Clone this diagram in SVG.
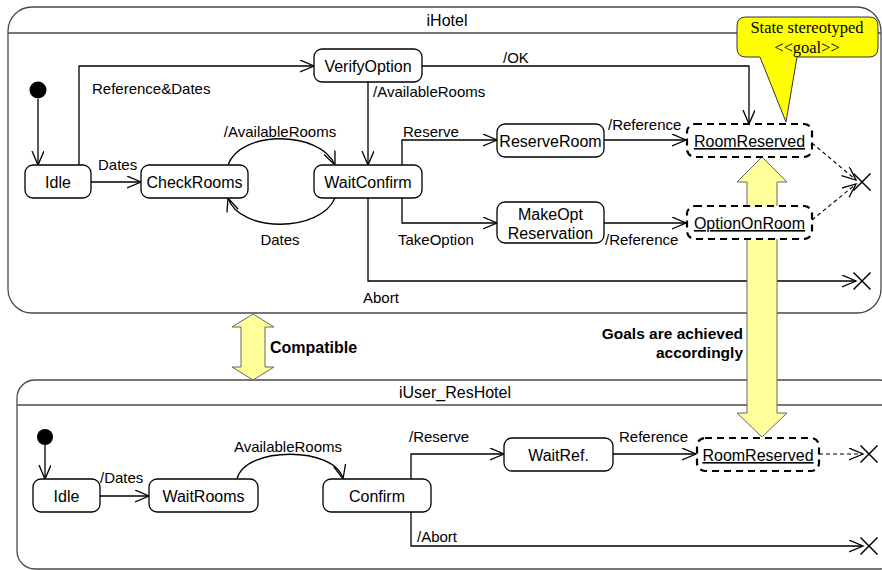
<svg xmlns="http://www.w3.org/2000/svg" width="882" height="570" viewBox="0 0 882 570">
<defs>
<style>
.cont{fill:#fff;stroke:#4a4a4a;stroke-width:1.3}
.hdr{stroke:#4a4a4a;stroke-width:1.3;fill:none}
.st{fill:#fff;stroke:#000;stroke-width:1.3}
.goal{fill:#fff;stroke:#000;stroke-width:2.2;stroke-dasharray:7 5}
.t{font-family:"Liberation Sans",Arial,sans-serif;font-size:16px;fill:#000;text-anchor:middle}
.u{text-decoration:underline}
.lb{font-family:"Liberation Sans",Arial,sans-serif;font-size:15px;fill:#000}
.bold{font-family:"Liberation Sans",Arial,sans-serif;font-weight:bold;fill:#000}
.c{fill:none;stroke:#000;stroke-width:1.3;marker-end:url(#arr)}
.d{fill:none;stroke:#000;stroke-width:1.1;stroke-dasharray:4 3;marker-end:url(#arr)}
.x{stroke:#000;stroke-width:1.5;fill:none}
.yel{fill:#ffff99;stroke:#666;stroke-width:1}
</style>
<marker id="arr" markerUnits="userSpaceOnUse" markerWidth="16" markerHeight="14" refX="14" refY="6" orient="auto">
<path d="M0,0 L14,6 L0,12" fill="none" stroke="#000" stroke-width="1.3" stroke-dasharray="none"/>
</marker>
</defs>

<g id="iHotel">
<rect class="cont" x="8" y="7" width="873" height="306" rx="24"/>
<line class="hdr" x1="8" y1="33" x2="881" y2="33"/>
<text class="t" x="447" y="26">iHotel</text>
</g>
<g id="iUser_ResHotel">
<rect class="cont" x="17" y="380" width="880" height="189" rx="18"/>
<line class="hdr" x1="17" y1="405" x2="897" y2="405"/>
<text class="t" x="455" y="398">iUser_ResHotel</text>
</g>

<g id="connectors">
<path class="c" d="M38,99 V165"/>
<path class="c" d="M91,182 H141"/>
<path class="c" d="M79,165 V66 H314"/>
<path class="c" d="M228,165 C240,130 320,130 335,165"/>
<path class="c" d="M335,198 C320,233 240,233 228,198"/>
<path class="c" d="M368,82 V165"/>
<path class="c" d="M422,66 H749 V124"/>
<path class="c" d="M402,165 V140 H497"/>
<path class="c" d="M604,140 H686"/>
<path class="c" d="M402,198 V223 H497"/>
<path class="c" d="M604,223 H686"/>
<path class="c" d="M368,198 V281 H856"/>
<path class="d" d="M812,143 L856,180"/>
<path class="d" d="M812,220 L856,184"/>
<path class="c" d="M45,445 V479"/>
<path class="c" d="M100,496 H149"/>
<path class="c" d="M237,479 C245,446 335,446 343,479"/>
<path class="c" d="M411,479 V454 H504"/>
<path class="c" d="M613,454 H696"/>
<path class="d" d="M819,454 H863"/>
<path class="c" d="M411,512 V546 H863"/>
</g>

<g id="connector-labels">
<text class="lb" x="92" y="94">Reference&amp;Dates</text>
<text class="lb" x="98" y="170">Dates</text>
<text class="lb" x="280" y="137" text-anchor="middle">/AvailableRooms</text>
<text class="lb" x="280" y="245" text-anchor="middle">Dates</text>
<text class="lb" x="373" y="97">/AvailableRooms</text>
<text class="lb" x="503" y="63">/OK</text>
<text class="lb" x="403" y="137">Reserve</text>
<text class="lb" x="608" y="130">/Reference</text>
<text class="lb" x="398" y="245">TakeOption</text>
<text class="lb" x="605" y="245">/Reference</text>
<text class="lb" x="363" y="303">Abort</text>
<text class="lb" x="100" y="483">/Dates</text>
<text class="lb" x="288" y="452" text-anchor="middle">AvailableRooms</text>
<text class="lb" x="409" y="442">/Reserve</text>
<text class="lb" x="619" y="442">Reference</text>
<text class="lb" x="417" y="542">/Abort</text>
</g>

<g id="finals">
<path class="x" d="M853.5,173.5 L870.5,190.5 M870.5,173.5 L853.5,190.5"/>
<path class="x" d="M853.5,272.5 L870.5,289.5 M870.5,272.5 L853.5,289.5"/>
<path class="x" d="M860.5,445.5 L877.5,462.5 M877.5,445.5 L860.5,462.5"/>
<path class="x" d="M860.5,537.5 L877.5,554.5 M877.5,537.5 L860.5,554.5"/>
</g>

<g id="goals-arrow">
<path class="yel" d="M762,157 L787,182 H777 V413 H787 L762,437 L737,413 H747 V182 H737 Z"/>
</g>
<g id="compatible-arrow">
<path class="yel" d="M253,314 L274,327 H265 V367 H274 L253,380 L232,367 H241 V327 H232 Z"/>
<text class="bold" x="270" y="353" font-size="16">Compatible</text>
</g>
<g id="goals-note">
<text class="bold" x="743" y="339" font-size="15.5" text-anchor="end">Goals are achieved</text>
<text class="bold" x="743" y="358" font-size="15.5" text-anchor="end">accordingly</text>
</g>

<g id="init1"><circle cx="38" cy="90" r="8.5" fill="#000"/></g>
<g id="Idle"><rect class="st" x="25" y="165" width="66" height="33" rx="8"/><text class="t" x="58" y="188">Idle</text></g>
<g id="CheckRooms"><rect class="st" x="141" y="165" width="107" height="33" rx="8"/><text class="t" x="194.5" y="188">CheckRooms</text></g>
<g id="VerifyOption"><rect class="st" x="314" y="49" width="108" height="33" rx="8"/><text class="t" x="368" y="72">VerifyOption</text></g>
<g id="WaitConfirm"><rect class="st" x="314" y="165" width="108" height="33" rx="8"/><text class="t" x="368" y="188">WaitConfirm</text></g>
<g id="ReserveRoom"><rect class="st" x="497" y="124" width="107" height="33" rx="8"/><text class="t" x="550.5" y="147">ReserveRoom</text></g>
<g id="MakeOptReservation"><rect class="st" x="497" y="202" width="107" height="41" rx="8"/><text class="t" x="550.5" y="220">MakeOpt</text><text class="t" x="550.5" y="239">Reservation</text></g>
<g id="RoomReserved"><rect class="goal" x="687" y="124" width="125" height="33" rx="8"/><text class="t u" x="749.5" y="147">RoomReserved</text></g>
<g id="OptionOnRoom"><rect class="goal" x="687" y="206" width="125" height="33" rx="8"/><text class="t u" x="749.5" y="229">OptionOnRoom</text></g>

<g id="init2"><circle cx="45" cy="437" r="8" fill="#000"/></g>
<g id="Idle2"><rect class="st" x="33" y="479" width="67" height="33" rx="8"/><text class="t" x="66.5" y="502">Idle</text></g>
<g id="WaitRooms"><rect class="st" x="149" y="479" width="109" height="33" rx="8"/><text class="t" x="203.5" y="502">WaitRooms</text></g>
<g id="Confirm"><rect class="st" x="323" y="479" width="108" height="33" rx="8"/><text class="t" x="377" y="502">Confirm</text></g>
<g id="WaitRef"><rect class="st" x="504" y="438" width="109" height="33" rx="8"/><text class="t" x="558.5" y="461">WaitRef.</text></g>
<g id="RoomReserved2"><rect class="goal" x="697" y="438" width="122" height="33" rx="8"/><text class="t u" x="758" y="461">RoomReserved</text></g>

<g id="callout">
<path d="M746,17 H869 Q878,17 878,26 V48 Q878,57 869,57 H797 L786,122 L760,57 H746 Q737,57 737,48 V26 Q737,17 746,17 Z" fill="#ffff00" stroke="#333" stroke-width="1"/>
<text x="807" y="33" font-family="'Liberation Serif','Times New Roman',serif" font-size="16.5" text-anchor="middle" fill="#000">State stereotyped</text>
<text x="807" y="53" font-family="'Liberation Serif','Times New Roman',serif" font-size="16.5" text-anchor="middle" fill="#000">&lt;&lt;goal&gt;&gt;</text>
</g>
</svg>
